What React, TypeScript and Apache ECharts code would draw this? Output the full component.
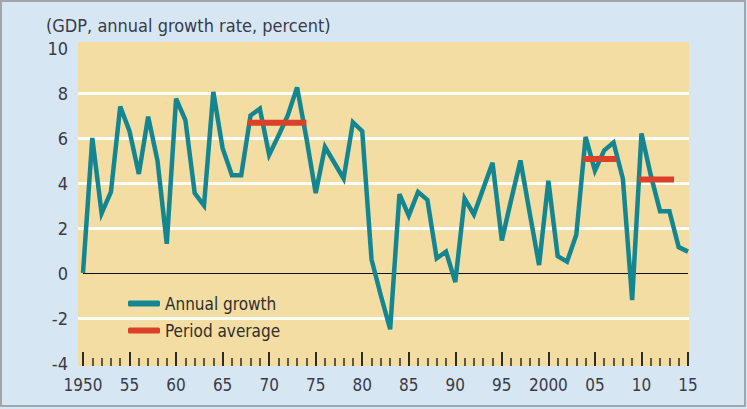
import React, { useEffect, useRef } from "react";
import * as echarts from "echarts";

const years: number[] = [];
for (let y = 1950; y <= 2015; y++) years.push(y);

const growth: number[] = [
  0.0, 6.0, 2.65, 3.6, 7.4, 6.3, 4.4, 6.95, 5.0, 1.3,
  7.75, 6.8, 3.55, 3.0, 8.05, 5.55, 4.35, 4.35, 7.0, 7.3,
  5.25, 6.1, 7.0, 8.25, 6.0, 3.55, 5.6, 4.9, 4.2, 6.7,
  6.3, 0.6, -1.0, -2.5, 3.5, 2.55, 3.6, 3.25, 0.65, 0.95,
  -0.4, 3.3, 2.6, 3.75, 4.9, 1.45, 3.25, 5.0, 2.65, 0.35,
  4.1, 0.75, 0.5, 1.7, 6.05, 4.55, 5.45, 5.8, 4.2, -1.2,
  6.2, 4.35, 2.75, 2.75, 1.15, 0.95,
];

const avgStart: number[] = [1967.7, 2003.7, 2009.7];
const avgEnd: number[] = [1974.0, 2007.3, 2013.5];
const avgValue: number[] = [6.68, 5.07, 4.16];

const xTickLabels: Record<number, string> = {
  1950: "1950", 1955: "55", 1960: "60", 1965: "65", 1970: "70", 1975: "75",
  1980: "80", 1985: "85", 1990: "90", 1995: "95", 2000: "2000", 2005: "05",
  2010: "10", 2015: "15",
};

const titleText = "(GDP, annual growth rate, percent)";
const seriesNames = ["Annual growth", "Period average"];

const FONT = "'Liberation Sans Narrow', 'DejaVu Sans Condensed', 'Roboto Condensed', Roboto, sans-serif";
const TEXT = "#3a3a48";
const TEAL = "#138691";
const RED = "#db4129";
const YELLOW = "#f3dda3";
const BLUE = "#d6e7f3";

export default function App() {
  const ref = useRef<HTMLDivElement>(null);
  useEffect(() => {
    if (!ref.current) return;
    const chart = echarts.init(ref.current, null, { renderer: "svg" });
    const avgSeries = avgStart.map((s, i) => ({
      name: seriesNames[1],
      type: "line",
      xAxisIndex: 0,
      yAxisIndex: 0,
      symbol: "none",
      z: 4,
      lineStyle: { color: RED, width: 6, cap: "butt" },
      itemStyle: { color: RED },
      data: [
        [s, avgValue[i]],
        [avgEnd[i], avgValue[i]],
      ],
    }));
    chart.setOption({
      animation: false,
      backgroundColor: BLUE,
      title: {
        text: titleText,
        left: 41,
        top: 11,
        textStyle: { fontFamily: FONT, fontSize: 18, fontWeight: "normal", color: TEXT },
      },
      graphic: [
        {
          type: "rect",
          z: -10,
          silent: true,
          shape: { x: 1, y: 1, width: 744, height: 405 },
          style: { fill: BLUE, stroke: "#a2a6aa", lineWidth: 2 },
        },
        {
          type: "rect",
          z: -5,
          silent: true,
          shape: { x: 78, y: 42, width: 611, height: 324 },
          style: { fill: YELLOW },
        },
      ],
      legend: {
        orient: "vertical",
        left: 128,
        top: 295,
        padding: 0,
        itemWidth: 32,
        itemHeight: 6,
        itemGap: 10,
        data: [
          { name: seriesNames[0], icon: "roundRect", itemStyle: { color: TEAL } },
          { name: seriesNames[1], icon: "roundRect", itemStyle: { color: RED } },
        ],
        textStyle: { fontFamily: FONT, fontSize: 17, color: "#2e2e2e" },
        itemStyle: { borderWidth: 0 },
        lineStyle: { width: 0 },
      },
      grid: [
        { left: 83, right: 59, top: 48, bottom: 46 },
        { left: 78, right: 58, top: 48, bottom: 46 },
      ],
      xAxis: [
        {
          type: "value",
          gridIndex: 0,
          min: 1950,
          max: 2015,
          interval: 5,
          offset: 3,
          axisLine: { show: false, onZero: false },
          axisTick: { show: true, inside: true, length: 14, lineStyle: { color: "#2b2b2b", width: 2 } },
          minorTick: { show: true, splitNumber: 5, length: 8, lineStyle: { color: "#2b2b2b", width: 1.5 } },
          splitLine: { show: false },
          axisLabel: {
            margin: 10,
            fontFamily: FONT,
            fontSize: 17,
            color: TEXT,
            formatter: (v: number) => xTickLabels[Math.round(v)] ?? "",
          },
        },
        { type: "value", gridIndex: 1, min: 0, max: 1, show: false },
      ],
      yAxis: [
        {
          type: "value",
          gridIndex: 0,
          min: -4,
          max: 10,
          interval: 2,
          axisLine: { show: false },
          axisTick: { show: false },
          splitLine: { show: false },
          axisLabel: {
            margin: 15,
            fontFamily: FONT,
            fontSize: 18,
            color: TEXT,
            padding: [6, 0, 0, 0],
          },
        },
        {
          type: "value",
          gridIndex: 1,
          min: -4,
          max: 10,
          interval: 2,
          axisLine: { show: false },
          axisTick: { show: false },
          axisLabel: { show: false },
          splitLine: {
            show: true,
            lineStyle: {
              width: 3,
              color: ["rgba(0,0,0,0)", "#ffffff", "rgba(0,0,0,0)", "#ffffff", "#ffffff", "#ffffff", "#ffffff", "rgba(0,0,0,0)"],
            },
          },
        },
      ],
      series: [
        {
          name: seriesNames[0],
          type: "line",
          xAxisIndex: 0,
          yAxisIndex: 0,
          symbol: "none",
          z: 3,
          lineStyle: { color: TEAL, width: 4.5, join: "miter" },
          itemStyle: { color: TEAL },
          data: years.map((y, i) => [y, growth[i]]),
          markLine: {
            silent: true,
            symbol: "none",
            label: { show: false },
            lineStyle: { color: "#111111", width: 1.2, type: "solid" },
            data: [{ yAxis: 0 }],
            z: 2,
          },
        },
        ...avgSeries,
      ],
    });
    return () => chart.dispose();
  }, []);
  return (
    <div
      ref={ref}
      style={{ position: "fixed", left: 0, top: 0, width: 747, height: 409 }}
    />
  );
}
